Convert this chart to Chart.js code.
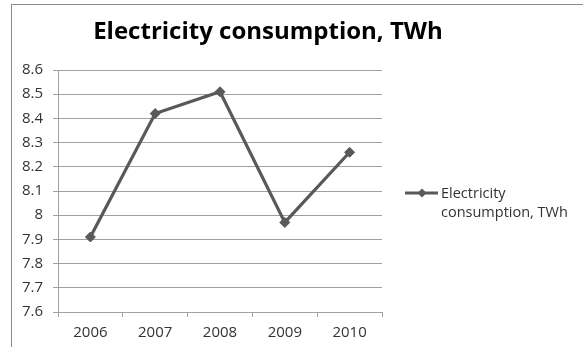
<!DOCTYPE html>
<html>
<head>
<meta charset="utf-8">
<script src="https://cdn.jsdelivr.net/npm/chart.js@4.4.0/dist/chart.umd.min.js"></script>
<style>
  body { margin: 0; background: #fff; overflow: hidden; }
  #wrap { position: relative; width: 583px; height: 347px; }
  #frame { position: absolute; left: 11px; top: 4px; width: 620px; height: 400px; border: 1px solid #8c8c8c; }
  canvas { position: absolute; left: 0; top: 0; }
</style>
</head>
<body>
<div id="wrap">
  <div id="frame"></div>
  <canvas id="grafico" width="583" height="347"></canvas>
</div>
<script>
// dados
const anos = ['2006', '2007', '2008', '2009', '2010'];
const consumo = [7.91, 8.42, 8.51, 7.97, 8.26];
const nomeSerie = 'Electricity consumption, TWh';
const legendaLinhas = ['Electricity', 'consumption, TWh'];
const yMin = 7.6, yMax = 8.6, yPasso = 0.1;

const corLinha = '#595959';
const corGrade = '#a0a0a0';
const corTexto = '#333333';
const fonte = "'Open Sans', 'DejaVu Sans', sans-serif";

// título e legenda desenhados à mão (legenda com texto em duas linhas)
const extrasPlugin = {
    id: 'tituloLegenda',
    afterDraw(chart) {
        const ctx = chart.ctx;
        const area = chart.chartArea;
        ctx.save();

        // título
        ctx.fillStyle = '#000';
        ctx.font = 'bold 24px ' + fonte;
        ctx.textAlign = 'center';
        ctx.textBaseline = 'alphabetic';
        ctx.fillText(nomeSerie, 268, 38.5);

        // legenda
        const x0 = area.right + 23;
        const yc = (area.top + area.bottom) / 2 + 2;
        ctx.strokeStyle = corLinha;
        ctx.lineWidth = 3;
        ctx.beginPath();
        ctx.moveTo(x0, yc);
        ctx.lineTo(x0 + 33, yc);
        ctx.stroke();
        const cx = x0 + 17, r = 4.5;
        ctx.fillStyle = corLinha;
        ctx.beginPath();
        ctx.moveTo(cx - r, yc);
        ctx.lineTo(cx, yc - r);
        ctx.lineTo(cx + r, yc);
        ctx.lineTo(cx, yc + r);
        ctx.closePath();
        ctx.fill();
        ctx.fillStyle = corTexto;
        ctx.font = '14.5px ' + fonte;
        ctx.textAlign = 'left';
        ctx.textBaseline = 'middle';
        legendaLinhas.forEach((t, i) => ctx.fillText(t, x0 + 36, yc + 1 + i * 19));
        ctx.restore();
    }
};

const ctx = document.getElementById('grafico').getContext('2d');
const myChart = new Chart(ctx, {
    type: 'line',
    data: {
        labels: anos,
        datasets: [{
            label: nomeSerie,
            data: consumo,
            borderColor: corLinha,
            backgroundColor: corLinha,
            borderWidth: 3.2,
            pointStyle: 'rectRot',
            pointRadius: 5,
            pointBorderWidth: 1,
            pointBackgroundColor: corLinha,
            pointBorderColor: corLinha,
            tension: 0
        }]
    },
    options: {
        responsive: false,
        animation: false,
        layout: { padding: { left: 0, right: 201, top: 70, bottom: 0 } },
        plugins: {
            legend: { display: false },
            tooltip: { enabled: false },
            title: { display: false }
        },
        scales: {
            x: {
                offset: true,
                grid: { offset: true, drawOnChartArea: false, drawTicks: true, tickLength: 5, color: corGrade },
                border: { display: true, color: corGrade },
                ticks: { color: corTexto, font: { family: fonte, size: 15 }, padding: 7, maxRotation: 0 },
                afterFit(s) { s.height = 35; }
            },
            y: {
                min: yMin,
                max: yMax,
                grid: { color: corGrade, tickLength: 5 },
                border: { display: true, color: corGrade },
                ticks: {
                    stepSize: yPasso,
                    color: corTexto,
                    font: { family: fonte, size: 15 },
                    padding: 10,
                    callback: v => String(parseFloat(v.toFixed(1)))
                },
                afterFit(s) { s.width = 58; }
            }
        }
    },
    plugins: [extrasPlugin]
});
</script>
</body>
</html>
